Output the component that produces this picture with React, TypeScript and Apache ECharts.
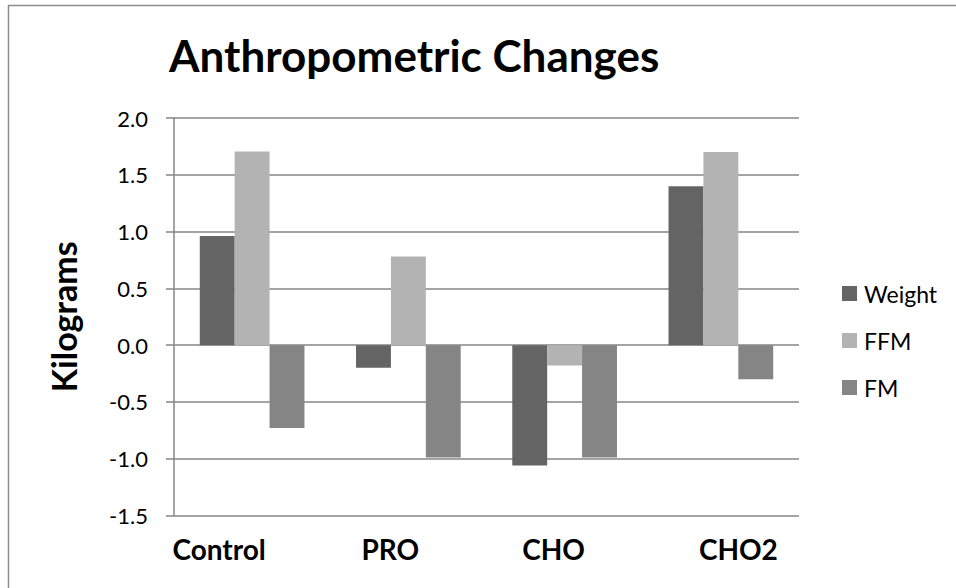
import React, { useEffect, useRef } from "react";
import * as echarts from "echarts";

const categories = ["Control", "PRO", "CHO", "CHO2"];
const weight = [0.96, -0.2, -1.06, 1.4];
const ffm = [1.705, 0.78, -0.18, 1.7];
const fm = [-0.73, -0.99, -0.99, -0.3];
const yTicks = [-1.5, -1.0, -0.5, 0.0, 0.5, 1.0, 1.5, 2.0];

// label placement tweaks (layout only)
const labelPad: Record<string, number[]> = {
  Control: [0, 66, 0, 0],
  PRO: [0, 36, 0, 0],
  CHO: [0, 22, 0, 0],
  CHO2: [0, 0, 0, 35],
};

const FONT = "Lato, 'Open Sans', sans-serif";

export default function App() {
  const ref = useRef<HTMLDivElement>(null);
  useEffect(() => {
    document.body.style.margin = "0";
    const chart = echarts.init(ref.current!, null, { renderer: "svg" });
    const rich: Record<string, any> = {};
    categories.forEach((c, i) => {
      rich["c" + i] = {
        fontFamily: FONT,
        fontWeight: "bold",
        fontSize: 28,
        color: "#000",
        padding: labelPad[c],
      };
    });
    chart.setOption({
      animation: false,
      backgroundColor: "#fff",
      textStyle: { fontFamily: FONT },
      title: {
        text: "Anthropometric Changes",
        left: 169,
        top: 33,
        padding: 0,
        textStyle: { fontFamily: FONT, fontWeight: "bold", fontSize: 44, color: "#000" },
      },
      graphic: [
        {
          type: "rect",
          shape: { x: 8.5, y: 5.5, width: 1000, height: 700 },
          style: { fill: "none", stroke: "#8c8c8c", lineWidth: 1.5 },
          silent: true,
          z: -1,
        },
      ],
      legend: {
        orient: "vertical",
        left: 842,
        top: 282,
        itemWidth: 15,
        itemHeight: 15,
        itemGap: 24,
        icon: "rect",
        padding: 0,
        textStyle: { fontFamily: FONT, fontSize: 23, color: "#000", lineHeight: 23, padding: [0, 0, 0, 2] },
        data: ["Weight", "FFM", "FM"],
      },
      grid: { left: 174, right: 157, top: 118, bottom: 72.5, containLabel: false },
      xAxis: {
        type: "category",
        data: categories,
        axisLine: { show: false },
        axisTick: { show: false },
        splitLine: { show: false },
        axisLabel: {
          margin: 19,
          formatter: (v: string) => `{c${categories.indexOf(v)}|${v}}`,
          rich,
        },
      },
      yAxis: {
        type: "value",
        min: yTicks[0],
        max: yTicks[yTicks.length - 1],
        interval: 0.5,
        name: "Kilograms",
        nameLocation: "middle",
        nameGap: 94,
        nameRotate: 90,
        nameTextStyle: { fontFamily: FONT, fontWeight: "bold", fontSize: 34, color: "#000" },
        axisLine: { show: true, lineStyle: { color: "#868686", width: 1.5 } },
        axisTick: { show: true, length: 8, inside: false, lineStyle: { color: "#868686", width: 1.5 } },
        axisLabel: {
          margin: 26,
          fontFamily: FONT,
          fontSize: 22,
          color: "#000",
          formatter: (v: number) => v.toFixed(1),
        },
        splitLine: { show: true, lineStyle: { color: "#868686", width: 1.5 } },
      },
      series: [
        { name: "Weight", type: "bar", data: weight, barGap: "0%", barCategoryGap: "33%", itemStyle: { color: "#646464" } },
        { name: "FFM", type: "bar", data: ffm, barGap: "0%", barCategoryGap: "33%", itemStyle: { color: "#b3b3b3" } },
        { name: "FM", type: "bar", data: fm, barGap: "0%", barCategoryGap: "33%", itemStyle: { color: "#858585" } },
      ],
    });
    return () => chart.dispose();
  }, []);
  return <div ref={ref} style={{ width: 956, height: 588 }} />;
}
